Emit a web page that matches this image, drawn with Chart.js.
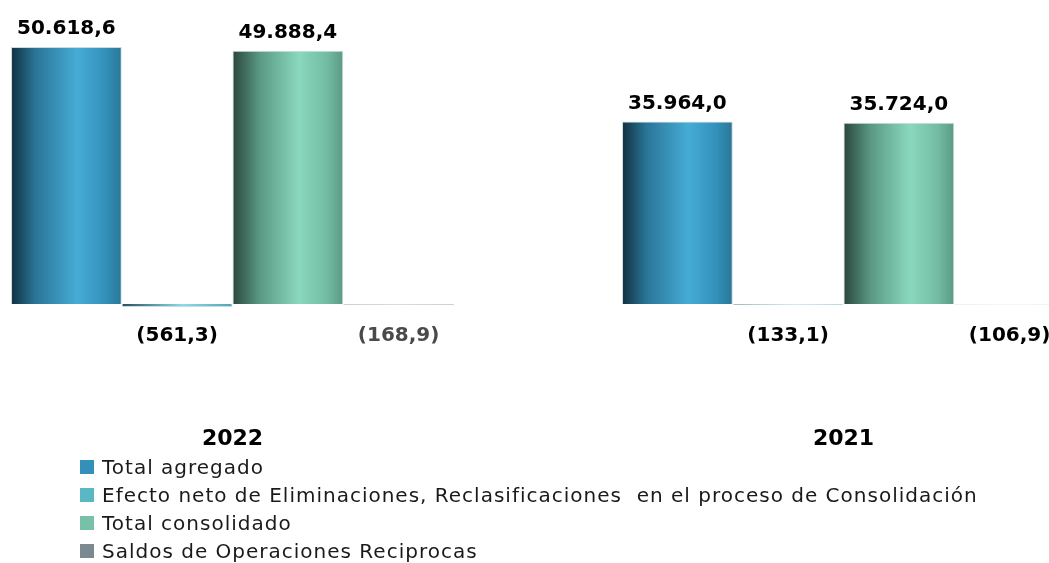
<!DOCTYPE html>
<html lang="es">
<head>
<meta charset="utf-8">
<title>Total agregado y consolidado 2022 - 2021</title>
<script src="https://cdn.jsdelivr.net/npm/chart.js@4.4.1/dist/chart.umd.min.js"></script>
<style>
  html, body { margin: 0; padding: 0; background: #ffffff; }
  body { width: 1049px; height: 563px; position: relative; overflow: hidden; font-family: "DejaVu Sans", sans-serif; }
  #wrap { position: absolute; left: -73px; top: 0; width: 1222px; height: 473px; }
  #legend { position: absolute; left: 80px; top: 453px; margin: 0; padding: 0; list-style: none; }
  #legend li { height: 28px; display: flex; align-items: center; font-size: 20px; letter-spacing: 1px; color: #1a1a1a; white-space: pre; }
  #legend li span.sw { width: 14px; height: 14px; margin-right: 8px; flex: none; }
</style>
</head>
<body>
<div id="wrap"><canvas id="chart"></canvas></div>
<ul id="legend"></ul>
<script>
// Years shown on the category axis
const years = ['2022', '2021'];

// Series values (millones)
const totalAgregado      = [50618.6, 35964.0];
const efectoNeto         = [-561.3, -133.1];
const totalConsolidado   = [49888.4, 35724.0];
const saldosReciprocas   = [-168.9, -106.9];

// Series names
const seriesNames = [
  'Total agregado',
  'Efecto neto de Eliminaciones, Reclasificaciones  en el proceso de Consolidación',
  'Total consolidado',
  'Saldos de Operaciones Reciprocas'
];

// Legend swatch colours
const swatchColors = ['#3390b8', '#5ab8c4', '#78c0a8', '#7a8a90'];

// Horizontal shading used to give each bar a cylindrical look
const barShades = [
  [[0, '#10303f'], [0.22, '#2a7597'], [0.6, '#46acd6'], [0.85, '#3291bb'], [1, '#2b7695']],
  [[0, '#24505c'], [0.55, '#8adcea'], [1, '#4fa6b6']],
  [[0, '#2a463b'], [0.25, '#5b9a85'], [0.6, '#8ad8bd'], [0.85, '#73bca3'], [1, '#5a9a84']],
  [[0, '#a8b4b6'], [0.5, '#c6d0d0'], [1, '#a8b4b6']]
];

// Value label colours per series and year
const labelColors = [
  ['#000', '#000'],
  ['#000', '#000'],
  ['#000', '#000'],
  ['#4a4a4a', '#000']
];

function fmt(v) {
  const a = Math.abs(v).toFixed(1).split('.');
  const s = a[0].replace(/\B(?=(\d{3})+(?!\d))/g, '.') + ',' + a[1];
  return v < 0 ? '(' + s + ')' : s;
}

// Paint each bar with a left-to-right gradient across its own width
const shadePlugin = {
  id: 'shade',
  beforeDatasetsDraw(chart) {
    const ctx = chart.ctx;
    chart.data.datasets.forEach((ds, i) => {
      const meta = chart.getDatasetMeta(i);
      meta.data.forEach(el => {
        const half = el.width / 2;
        const g = ctx.createLinearGradient(el.x - half, 0, el.x + half, 0);
        barShades[i].forEach(s => g.addColorStop(s[0], s[1]));
        el.options = Object.assign({}, el.options, { backgroundColor: g });
      });
    });
  }
};

// Value labels: above positive bars, below the zero line for negative ones
const valueLabelPlugin = {
  id: 'valueLabels',
  afterDatasetsDraw(chart) {
    const ctx = chart.ctx;
    const zero = chart.scales.y.getPixelForValue(0);
    ctx.save();
    ctx.font = 'bold 20px "DejaVu Sans", sans-serif';
    ctx.textAlign = 'center';
    ctx.textBaseline = 'middle';
    chart.data.datasets.forEach((ds, i) => {
      const meta = chart.getDatasetMeta(i);
      meta.data.forEach((el, j) => {
        const v = ds.data[j];
        const y = v >= 0 ? el.y - 18 : zero + 32;
        ctx.fillStyle = labelColors[i][j];
        ctx.fillText(fmt(v), el.x, y);
      });
    });
    ctx.restore();
  }
};

const seriesValues = [totalAgregado, efectoNeto, totalConsolidado, saldosReciprocas];

const chart = new Chart(document.getElementById('chart'), {
  type: 'bar',
  data: {
    labels: years,
    datasets: seriesValues.map((vals, i) => ({
      label: seriesNames[i],
      data: vals,
      backgroundColor: swatchColors[i],
      borderColor: 'rgba(200,214,218,0.9)',
      borderWidth: 1,
      borderSkipped: 'start',
      categoryPercentage: 0.725,
      barPercentage: 1.0
    }))
  },
  options: {
    responsive: true,
    maintainAspectRatio: false,
    animation: false,
    layout: { padding: { top: 24.8, bottom: 7.4, left: 0, right: 0 } },
    plugins: { legend: { display: false }, tooltip: { enabled: false } },
    scales: {
      y: { display: false, min: -20000, max: 55000 },
      x: {
        grid: { display: false },
        border: { display: false },
        ticks: {
          padding: 12.8,
          color: '#000',
          font: { family: '"DejaVu Sans", sans-serif', size: 22, weight: 'bold' }
        }
      }
    }
  },
  plugins: [shadePlugin, valueLabelPlugin]
});

// Legend list built from the chart's datasets
const legend = document.getElementById('legend');
chart.data.datasets.forEach((ds, i) => {
  const li = document.createElement('li');
  const sw = document.createElement('span');
  sw.className = 'sw';
  sw.style.background = swatchColors[i];
  li.appendChild(sw);
  li.appendChild(document.createTextNode(ds.label));
  legend.appendChild(li);
});
</script>
</body>
</html>
